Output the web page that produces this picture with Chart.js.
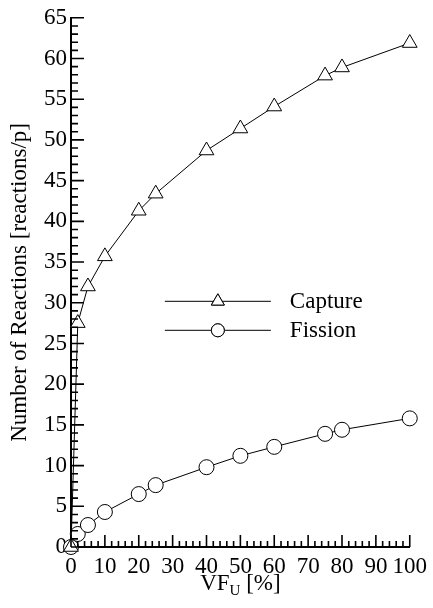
<!DOCTYPE html>
<html>
<head>
<meta charset="utf-8">
<script src="https://cdn.jsdelivr.net/npm/chart.js@4.4.1/dist/chart.umd.min.js"></script>
<style>
  html, body { margin: 0; padding: 0; background: #fff; }
  #wrap { width: 433px; height: 608px; }
</style>
</head>
<body>
<div id="wrap"><canvas id="chartReactions" width="433" height="608"></canvas></div>
<script>
// volume fraction of U [%]
const vfU = [0, 2, 5, 10, 20, 25, 40, 50, 60, 75, 80, 100];
const capture = [0, 27.5, 32.0, 35.7, 41.3, 43.4, 48.7, 51.4, 54.1, 57.9, 58.9, 61.9];
const fission = [0, 1.6, 2.7, 4.3, 6.5, 7.6, 9.8, 11.2, 12.3, 13.9, 14.4, 15.8];
const seriesNames = ['Capture', 'Fission'];

const FONT = 'Liberation Serif, Times New Roman, serif';

const toXY = (xs, ys) => xs.map((x, i) => ({ x: x, y: ys[i] }));

// ticks hacia adentro, con menores
const innerTicks = {
  id: 'innerTicks',
  afterDatasetsDraw(chart) {
    const c = chart.ctx;
    const area = chart.chartArea;
    const sx = chart.scales.x, sy = chart.scales.y;
    c.save();
    c.strokeStyle = '#000000';
    c.lineWidth = 1.6;
    c.beginPath();
    for (let v = 0; v <= 65; v++) {
      const y = sy.getPixelForValue(v);
      const len = v % 5 === 0 ? 13 : 7;
      c.moveTo(area.left, y);
      c.lineTo(area.left + len, y);
    }
    for (let v = 0; v <= 100; v += 2) {
      const x = sx.getPixelForValue(v);
      const len = v % 10 === 0 ? 12 : 6;
      c.moveTo(x, area.bottom);
      c.lineTo(x, area.bottom - len);
    }
    c.stroke();
    c.restore();
  }
};

// titulo del eje X con subindice
const xTitle = {
  id: 'xTitle',
  afterDraw(chart) {
    const c = chart.ctx, area = chart.chartArea;
    const big = '23px ' + FONT, small = '15px ' + FONT;
    c.save();
    c.fillStyle = '#000';
    c.textBaseline = 'alphabetic';
    c.font = big;
    const w1 = c.measureText('VF').width;
    const w3 = c.measureText(' [%]').width;
    c.font = small;
    const w2 = c.measureText('U').width;
    let x = (area.left + area.right) / 2 - (w1 + w2 + w3) / 2;
    const y = area.bottom + 43;
    c.font = big;
    c.fillText('VF', x, y);
    x += w1;
    c.font = small;
    c.fillText('U', x, y + 5);
    x += w2;
    c.font = big;
    c.fillText(' [%]', x, y);
    c.restore();
  }
};

// leyenda dentro del grafico
const innerLegend = {
  id: 'innerLegend',
  afterDraw(chart) {
    const c = chart.ctx, area = chart.chartArea;
    const w = area.right - area.left;
    const x0 = area.left + w * 0.277;
    const x1 = area.left + w * 0.59;
    const xm = (x0 + x1) / 2;
    const rows = [area.top + 283, area.top + 312];
    c.save();
    chart.data.datasets.forEach((ds, i) => {
      const y = rows[i] + 0.5;
      c.strokeStyle = '#000';
      c.lineWidth = 1;
      c.beginPath();
      c.moveTo(x0, y);
      c.lineTo(x1, y);
      c.stroke();
      c.fillStyle = '#fff';
      Chart.helpers.drawPoint(c, {
        pointStyle: ds.pointStyle,
        radius: ds.pointStyle === 'triangle' ? 7.5 : 6.5,
        borderWidth: 1,
        rotation: 0
      }, xm, y);
      c.fill();
      c.stroke();
      c.fillStyle = '#000';
      c.font = '23px ' + FONT;
      c.textBaseline = 'middle';
      c.fillText(ds.label, x1 + 19, y + 1);
    });
    c.restore();
  }
};

const ctx = document.getElementById('chartReactions').getContext('2d');
new Chart(ctx, {
  type: 'line',
  data: {
    datasets: [
      {
        label: seriesNames[0],
        data: toXY(vfU, capture),
        borderColor: '#000',
        borderWidth: 1,
        pointStyle: 'triangle',
        pointRadius: 8.5,
        pointBorderWidth: 1,
        pointBorderColor: '#000',
        pointBackgroundColor: '#fff',
        tension: 0,
        clip: false
      },
      {
        label: seriesNames[1],
        data: toXY(vfU, fission),
        borderColor: '#000',
        borderWidth: 1,
        pointStyle: 'circle',
        pointRadius: 7.5,
        pointBorderWidth: 1,
        pointBorderColor: '#000',
        pointBackgroundColor: '#fff',
        tension: 0,
        clip: false
      }
    ]
  },
  options: {
    responsive: false,
    animation: false,
    layout: { padding: { left: 0, top: 15, right: 20, bottom: 0 } },
    plugins: {
      legend: { display: false },
      tooltip: { enabled: false }
    },
    scales: {
      x: {
        type: 'linear',
        min: 0,
        max: 100,
        grid: { display: false, drawTicks: false },
        border: { display: true, color: '#000', width: 2 },
        ticks: {
          stepSize: 10,
          autoSkip: false,
          maxRotation: 0,
          padding: 6,
          color: '#000',
          font: { family: FONT, size: 23 }
        },
        afterFit(scale) { scale.height = 61; }
      },
      y: {
        type: 'linear',
        min: 0,
        max: 65,
        grid: { display: false, drawTicks: false },
        border: { display: true, color: '#000', width: 2 },
        ticks: {
          stepSize: 5,
          padding: 4,
          color: '#000',
          font: { family: FONT, size: 23 }
        },
        title: {
          display: true,
          text: 'Number of Reactions [reactions/p]',
          color: '#000',
          font: { family: FONT, size: 23 },
          padding: { top: 6, bottom: 0 }
        },
        afterFit(scale) { scale.width = 71; }
      }
    }
  },
  plugins: [innerTicks, xTitle, innerLegend]
});
</script>
</body>
</html>
